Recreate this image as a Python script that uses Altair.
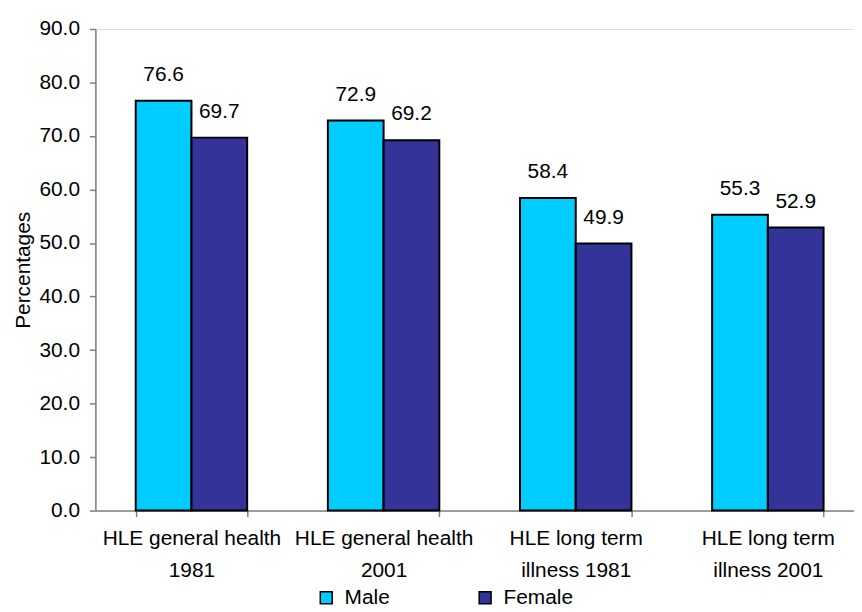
import altair as alt
import pandas as pd

categories = [
    "HLE general health|1981",
    "HLE general health|2001",
    "HLE long term|illness 1981",
    "HLE long term|illness 2001",
]
male = [76.6, 72.9, 58.4, 55.3]
female = [69.7, 69.2, 49.9, 52.9]
series = ["Male", "Female"]
colors = ["#00CCFF", "#333399"]
y_ticks = [0, 10, 20, 30, 40, 50, 60, 70, 80, 90]

rows = []
for c, m, f in zip(categories, male, female):
    rows.append({"category": c, "sex": "Male", "value": m})
    rows.append({"category": c, "sex": "Female", "value": f})
df = pd.DataFrame(rows)

FONT = "Liberation Sans"
GRAY = "#808080"
FS = 21

base = alt.Chart(df).encode(
    x=alt.X(
        "category:N",
        sort=categories,
        scale=alt.Scale(paddingInner=0.42, paddingOuter=0.21),
        axis=alt.Axis(
            title=None,
            labelAngle=0,
            labelExpr="split(datum.label, '|')",
            labelFontSize=FS,
            labelLineHeight=32,
            labelPadding=11,
            labelColor="black",
            labelLimit=400,
            tickBand="extent",
            tickSize=6,
            tickColor=GRAY,
            domainColor=GRAY,
            domainWidth=1.5,
            tickWidth=1.5,
        ),
    ),
    xOffset=alt.XOffset("sex:N", sort=series, scale=alt.Scale(paddingInner=0, paddingOuter=0)),
    y=alt.Y(
        "value:Q",
        scale=alt.Scale(domain=[0, 90], nice=False),
        axis=alt.Axis(
            title="Percentages",
            values=y_ticks,
            format=".1f",
            grid=False,
            labelFontSize=FS,
            labelColor="black",
            labelPadding=10,
            tickSize=6,
            tickColor=GRAY,
            domainColor=GRAY,
            domainWidth=1.5,
            tickWidth=1.5,
            titleFontSize=FS,
            titleFontWeight="normal",
            titleColor="black",
            titlePadding=5,
        ),
    ),
)

bars = base.mark_bar(stroke="black", strokeWidth=2).encode(
    color=alt.Color(
        "sex:N",
        sort=series,
        scale=alt.Scale(domain=series, range=colors),
        legend=alt.Legend(
            title=None,
            orient="none",
            legendX=222,
            legendY=562,
            direction="horizontal",
            symbolType="square",
            symbolSize=144,
            symbolStrokeColor="black",
            symbolStrokeWidth=1.5,
            symbolOpacity=1,
            labelFontSize=FS,
            labelColor="black",
            labelOffset=8,
            columnPadding=85,
            padding=0,
        ),
    )
)

text = base.mark_text(dy=-20, baseline="alphabetic", fontSize=FS, font=FONT, color="black").encode(
    text=alt.Text("value:Q", format=".1f")
)

chart = (
    (bars + text)
    .properties(
        width=774,
        height=485,
        autosize=alt.AutoSizeParams(type="none"),
        padding={"left": 88, "top": 19, "right": -10, "bottom": 104},
    )
    .configure_view(stroke=None)
    .configure(font=FONT)
)

chart.save("out.html", embed_options={"renderer": "svg", "actions": False})
